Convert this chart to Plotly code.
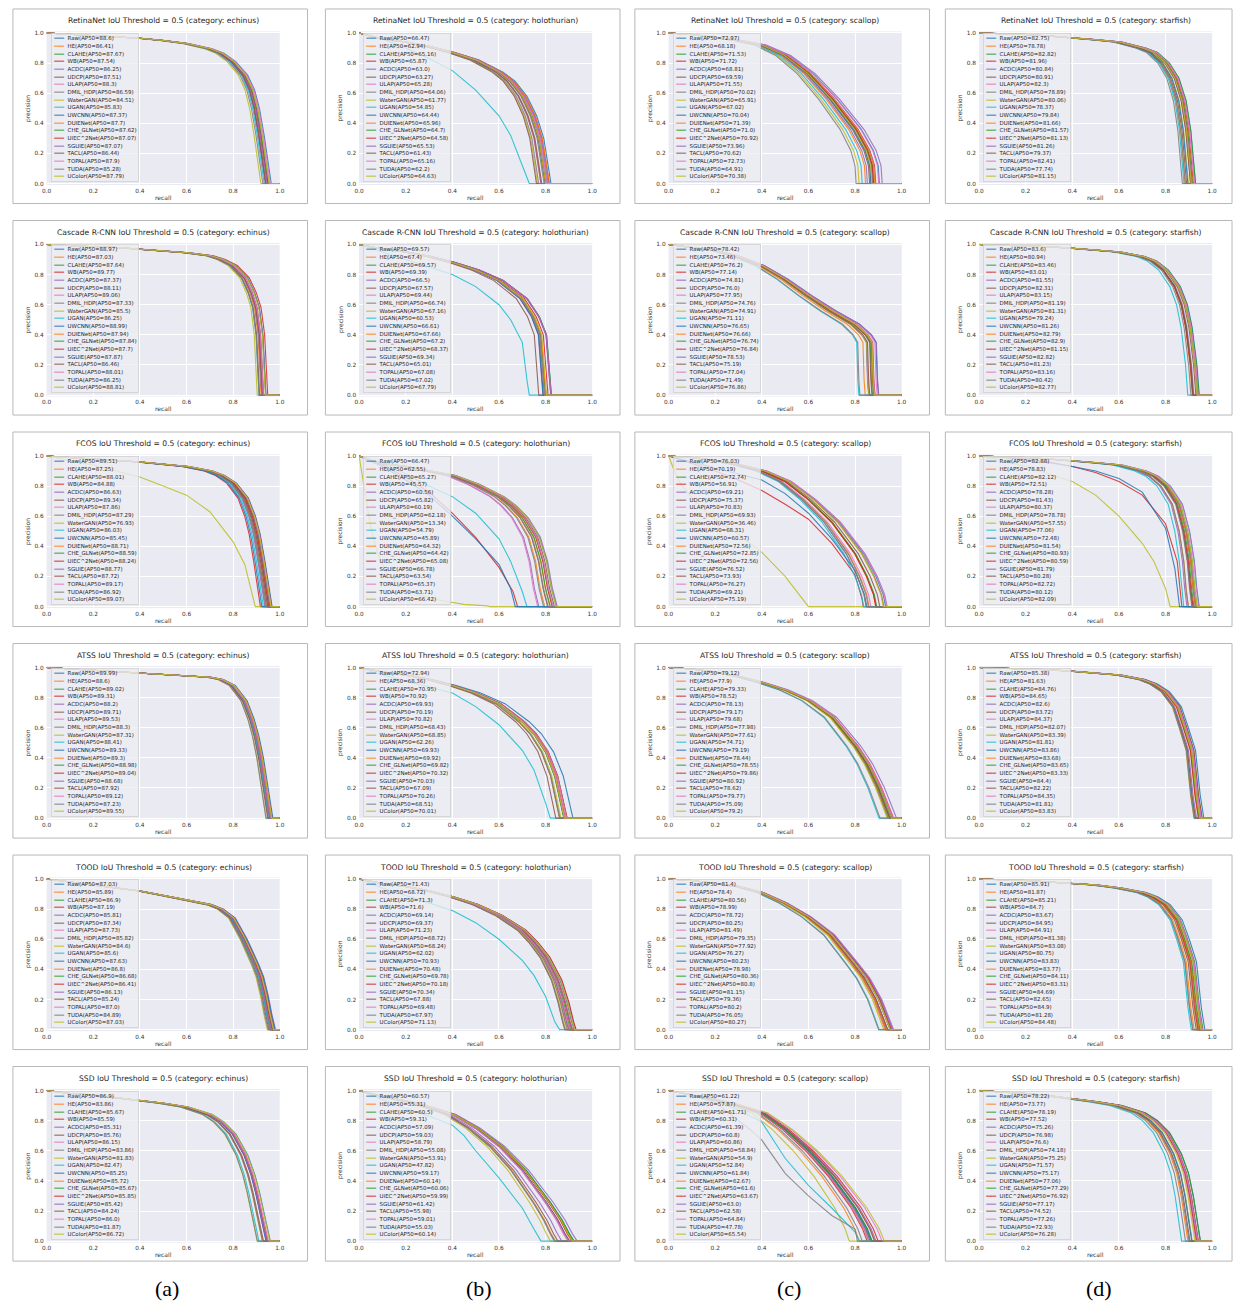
import numpy as np
import plotly.graph_objects as go

# ---------------------------------------------------------------- labels
methods = ["Raw", "HE", "CLAHE", "WB", "ACDC", "UDCP", "ULAP", "DMIL_HDP", "WaterGAN",
           "UGAN", "UWCNN", "DUIENet", "CHE_GLNet", "UIEC^2Net", "SGUIE", "TACL",
           "TOPAL", "TUDA", "UColor"]
detectors = ["RetinaNet", "Cascade R-CNN", "FCOS", "ATSS", "TOOD", "SSD"]
categories = ["echinus", "holothurian", "scallop", "starfish"]
column_tags = ["(a)", "(b)", "(c)", "(d)"]
tick_values = [0.0, 0.2, 0.4, 0.6, 0.8, 1.0]
tick_labels = ["0.0", "0.2", "0.4", "0.6", "0.8", "1.0"]

# ---------------------------------------------------------------- AP50 per method
ap_retinanet_echinus = [88.6, 86.41, 87.67, 87.54, 86.25, 87.51, 88.3, 86.59, 84.51, 85.83, 87.37, 87.7, 87.62, 87.07, 87.07, 86.44, 87.9, 85.28, 87.79]
ap_retinanet_holothurian = [66.47, 62.94, 65.16, 65.87, 63.0, 63.27, 65.28, 64.06, 61.77, 54.85, 64.44, 65.96, 64.7, 64.58, 65.53, 61.43, 65.16, 62.2, 64.63]
ap_retinanet_scallop = [72.97, 68.18, 71.53, 71.72, 68.81, 69.59, 71.55, 70.02, 65.91, 67.02, 70.04, 71.39, 71.0, 70.92, 73.96, 70.62, 72.73, 64.91, 70.38]
ap_retinanet_starfish = [82.75, 78.78, 82.82, 81.96, 80.84, 80.91, 82.3, 78.89, 80.06, 78.37, 79.84, 81.66, 81.57, 81.13, 81.26, 79.37, 82.41, 77.74, 81.15]

ap_cascade_echinus = [88.97, 87.03, 87.64, 89.77, 87.37, 88.11, 89.06, 87.33, 85.5, 86.25, 88.99, 87.94, 87.84, 87.7, 87.87, 86.46, 88.01, 86.25, 88.81]
ap_cascade_holothurian = [69.57, 67.4, 69.57, 69.39, 66.5, 67.57, 69.44, 66.74, 67.16, 60.53, 66.61, 67.66, 67.2, 68.37, 69.34, 65.01, 67.08, 67.02, 67.79]
ap_cascade_scallop = [78.42, 73.46, 76.2, 77.14, 74.81, 76.0, 77.95, 74.76, 74.91, 71.11, 76.65, 76.66, 76.74, 76.84, 78.53, 75.19, 77.04, 71.49, 76.86]
ap_cascade_starfish = [83.6, 80.94, 83.46, 83.01, 81.55, 82.31, 83.15, 81.19, 81.31, 79.24, 81.26, 82.79, 82.9, 81.15, 82.82, 81.23, 83.16, 80.42, 82.77]

ap_fcos_echinus = [89.51, 87.25, 88.01, 84.88, 86.63, 89.34, 87.86, 87.29, 76.93, 86.03, 85.45, 88.71, 88.59, 88.24, 88.77, 87.72, 89.17, 86.92, 89.07]
ap_fcos_holothurian = [66.47, 62.55, 65.27, 45.57, 60.56, 65.82, 60.19, 62.18, 13.34, 54.79, 45.89, 64.32, 64.42, 65.08, 66.78, 63.54, 65.37, 63.71, 66.42]
ap_fcos_scallop = [76.03, 70.19, 72.74, 56.91, 69.21, 75.37, 70.83, 69.93, 36.46, 68.31, 60.57, 72.56, 72.85, 72.56, 76.52, 73.93, 76.27, 69.21, 75.19]
ap_fcos_starfish = [82.88, 78.83, 82.12, 72.51, 78.28, 81.43, 80.37, 78.78, 57.55, 77.06, 72.48, 81.54, 80.93, 80.59, 81.79, 80.28, 82.72, 80.12, 82.09]

ap_atss_echinus = [89.99, 88.6, 89.02, 89.31, 88.2, 89.71, 89.53, 88.3, 87.31, 88.41, 89.33, 89.3, 88.98, 89.04, 88.68, 87.92, 89.12, 87.23, 89.55]
ap_atss_holothurian = [72.94, 68.36, 70.95, 70.92, 69.93, 70.19, 70.82, 68.43, 68.85, 62.26, 69.93, 69.92, 69.82, 70.32, 70.03, 67.09, 70.26, 68.51, 70.01]
ap_atss_scallop = [79.12, 77.9, 79.33, 78.52, 78.13, 79.17, 79.68, 77.98, 77.61, 74.71, 79.19, 78.44, 78.55, 79.86, 80.92, 78.62, 79.77, 75.09, 79.2]
ap_atss_starfish = [85.38, 81.63, 84.76, 84.65, 82.6, 83.72, 84.37, 82.07, 83.39, 81.81, 83.86, 83.68, 83.65, 83.33, 84.4, 82.22, 84.35, 81.81, 83.83]

ap_tood_echinus = [87.03, 85.89, 86.9, 87.19, 85.81, 87.34, 87.73, 85.82, 84.6, 85.6, 87.63, 86.8, 86.68, 86.41, 86.13, 85.24, 87.0, 84.89, 87.03]
ap_tood_holothurian = [71.43, 68.72, 71.3, 71.6, 69.14, 69.37, 71.23, 68.72, 68.24, 62.02, 70.93, 70.48, 69.78, 70.18, 70.34, 67.88, 69.48, 67.97, 71.13]
ap_tood_scallop = [81.4, 78.4, 80.56, 78.99, 78.72, 80.25, 81.49, 79.35, 77.92, 76.27, 80.23, 78.98, 80.36, 80.8, 81.15, 79.36, 80.2, 76.05, 80.27]
ap_tood_starfish = [85.91, 81.87, 85.21, 84.7, 83.67, 84.95, 84.91, 81.38, 83.08, 80.75, 83.83, 83.77, 84.11, 83.31, 84.69, 82.65, 84.9, 81.28, 84.48]

ap_ssd_echinus = [86.9, 83.86, 85.67, 85.59, 85.31, 85.76, 86.15, 83.86, 81.83, 82.47, 85.25, 85.72, 85.67, 85.85, 85.42, 84.24, 86.0, 81.87, 86.72]
ap_ssd_holothurian = [60.57, 55.31, 60.5, 59.31, 57.09, 59.03, 58.79, 55.08, 53.91, 47.82, 59.17, 60.14, 60.06, 59.99, 61.42, 55.98, 59.01, 55.03, 60.14]
ap_ssd_scallop = [61.22, 57.87, 61.71, 60.31, 61.39, 60.8, 60.86, 58.84, 54.9, 52.84, 61.84, 62.67, 61.6, 63.67, 63.0, 62.58, 64.84, 47.78, 65.54]
ap_ssd_starfish = [78.22, 73.77, 78.19, 77.52, 75.26, 76.98, 76.6, 74.18, 75.25, 71.57, 75.17, 77.06, 77.29, 76.92, 77.17, 74.52, 77.26, 72.93, 76.28]

# ---------------------------------------------------------------- typical PR curve of each panel
# (recall knots, precision knots) of the curve with the panel's median AP50
pr_retinanet_echinus = ([0, 0.1, 0.2, 0.3, 0.4, 0.5, 0.6, 0.7, 0.75, 0.8, 0.85, 0.88, 0.9, 0.92, 0.94, 0.95],
                        [1.0, 0.99, 0.985, 0.975, 0.965, 0.95, 0.93, 0.895, 0.865, 0.81, 0.72, 0.62, 0.5, 0.32, 0.1, 0])
pr_retinanet_holothurian = ([0, 0.05, 0.1, 0.2, 0.3, 0.4, 0.5, 0.6, 0.65, 0.7, 0.74, 0.77, 0.79, 0.8],
                            [1, 0.98, 0.96, 0.94, 0.91, 0.87, 0.82, 0.74, 0.68, 0.58, 0.45, 0.3, 0.1, 0])
pr_retinanet_scallop = ([0, 0.1, 0.2, 0.3, 0.4, 0.5, 0.6, 0.7, 0.8, 0.85, 0.87, 0.875],
                        [1, 0.99, 0.97, 0.95, 0.92, 0.85, 0.73, 0.56, 0.36, 0.22, 0.12, 0])
pr_retinanet_starfish = ([0, 0.1, 0.2, 0.3, 0.4, 0.5, 0.6, 0.7, 0.75, 0.8, 0.84, 0.87, 0.89, 0.9, 0.91],
                         [1, 0.995, 0.99, 0.98, 0.97, 0.955, 0.94, 0.9, 0.87, 0.8, 0.7, 0.55, 0.35, 0.15, 0])

pr_cascade_echinus = ([0, 0.1, 0.2, 0.3, 0.4, 0.5, 0.6, 0.7, 0.75, 0.8, 0.85, 0.88, 0.9, 0.915, 0.922, 0.928],
                      [1, 0.99, 0.985, 0.98, 0.97, 0.96, 0.945, 0.925, 0.9, 0.86, 0.78, 0.68, 0.58, 0.4, 0.15, 0])
pr_cascade_holothurian = ([0, 0.1, 0.2, 0.3, 0.4, 0.5, 0.6, 0.7, 0.75, 0.78, 0.79, 0.8],
                          [1, 0.97, 0.95, 0.92, 0.88, 0.83, 0.76, 0.64, 0.52, 0.4, 0.2, 0])
pr_cascade_scallop = ([0, 0.1, 0.2, 0.3, 0.4, 0.5, 0.6, 0.7, 0.8, 0.85, 0.87, 0.875, 0.88],
                      [1, 0.98, 0.96, 0.92, 0.86, 0.77, 0.66, 0.56, 0.47, 0.4, 0.35, 0.1, 0])
pr_cascade_starfish = ([0, 0.1, 0.2, 0.3, 0.4, 0.5, 0.6, 0.7, 0.75, 0.8, 0.85, 0.88, 0.9, 0.92, 0.93],
                       [1, 0.995, 0.99, 0.985, 0.975, 0.965, 0.95, 0.92, 0.89, 0.83, 0.72, 0.6, 0.45, 0.2, 0])

pr_fcos_echinus = ([0, 0.1, 0.2, 0.3, 0.4, 0.5, 0.6, 0.7, 0.75, 0.8, 0.85, 0.88, 0.9, 0.92, 0.94, 0.95],
                   [1, 0.99, 0.98, 0.97, 0.96, 0.945, 0.93, 0.9, 0.87, 0.82, 0.72, 0.6, 0.48, 0.3, 0.08, 0])
pr_fcos_holothurian = ([0, 0.05, 0.1, 0.2, 0.3, 0.4, 0.5, 0.6, 0.65, 0.7, 0.75, 0.78, 0.8, 0.82],
                       [1, 0.97, 0.95, 0.93, 0.9, 0.87, 0.81, 0.73, 0.67, 0.59, 0.46, 0.3, 0.12, 0])
pr_fcos_scallop = ([0, 0.1, 0.2, 0.3, 0.4, 0.5, 0.6, 0.7, 0.8, 0.85, 0.88, 0.89],
                   [1, 0.99, 0.97, 0.94, 0.9, 0.83, 0.71, 0.56, 0.35, 0.2, 0.08, 0])
pr_fcos_starfish = ([0, 0.1, 0.2, 0.3, 0.4, 0.5, 0.6, 0.7, 0.75, 0.8, 0.85, 0.88, 0.9, 0.91, 0.92],
                    [1, 0.995, 0.99, 0.98, 0.97, 0.955, 0.94, 0.9, 0.865, 0.8, 0.68, 0.5, 0.3, 0.12, 0])

pr_atss_echinus = ([0, 0.1, 0.2, 0.3, 0.4, 0.5, 0.6, 0.7, 0.75, 0.8, 0.85, 0.88, 0.9, 0.92, 0.94, 0.955, 0.96],
                   [1, 0.99, 0.985, 0.975, 0.965, 0.955, 0.945, 0.935, 0.92, 0.88, 0.78, 0.66, 0.55, 0.4, 0.2, 0.03, 0])
pr_atss_holothurian = ([0, 0.1, 0.2, 0.3, 0.4, 0.5, 0.6, 0.7, 0.75, 0.8, 0.84, 0.87, 0.88],
                       [1, 0.97, 0.95, 0.92, 0.88, 0.83, 0.76, 0.64, 0.56, 0.44, 0.28, 0.08, 0])
pr_atss_scallop = ([0, 0.1, 0.2, 0.3, 0.4, 0.5, 0.6, 0.7, 0.8, 0.85, 0.9, 0.93, 0.945, 0.95],
                   [1, 0.99, 0.97, 0.94, 0.9, 0.85, 0.78, 0.67, 0.48, 0.36, 0.2, 0.08, 0.02, 0])
pr_atss_starfish = ([0, 0.1, 0.2, 0.3, 0.4, 0.5, 0.6, 0.7, 0.75, 0.8, 0.85, 0.88, 0.91, 0.93, 0.945],
                    [1, 0.995, 0.99, 0.985, 0.975, 0.965, 0.95, 0.92, 0.89, 0.84, 0.74, 0.6, 0.45, 0.15, 0])

pr_tood_echinus = ([0, 0.1, 0.2, 0.3, 0.4, 0.5, 0.6, 0.7, 0.75, 0.8, 0.85, 0.88, 0.9, 0.92, 0.94, 0.955, 0.965, 0.97],
                   [1, 0.98, 0.96, 0.94, 0.92, 0.89, 0.86, 0.83, 0.8, 0.74, 0.6, 0.5, 0.43, 0.35, 0.22, 0.1, 0.02, 0])
pr_tood_holothurian = ([0, 0.1, 0.2, 0.3, 0.4, 0.5, 0.6, 0.7, 0.75, 0.8, 0.85, 0.88, 0.9, 0.91],
                       [1, 0.97, 0.95, 0.92, 0.88, 0.83, 0.76, 0.66, 0.58, 0.48, 0.33, 0.18, 0.05, 0])
pr_tood_scallop = ([0, 0.1, 0.2, 0.3, 0.4, 0.5, 0.6, 0.7, 0.8, 0.85, 0.9, 0.93, 0.945, 0.95],
                   [1, 0.99, 0.97, 0.95, 0.91, 0.84, 0.75, 0.63, 0.44, 0.34, 0.2, 0.08, 0.02, 0])
pr_tood_starfish = ([0, 0.1, 0.2, 0.3, 0.4, 0.5, 0.6, 0.7, 0.75, 0.8, 0.85, 0.88, 0.91, 0.93, 0.945],
                    [1, 0.995, 0.99, 0.98, 0.97, 0.96, 0.94, 0.91, 0.88, 0.83, 0.73, 0.6, 0.45, 0.15, 0])

pr_ssd_echinus = ([0, 0.1, 0.2, 0.3, 0.4, 0.5, 0.6, 0.7, 0.75, 0.8, 0.85, 0.88, 0.9, 0.92, 0.935, 0.945],
                  [1, 0.98, 0.97, 0.95, 0.935, 0.915, 0.89, 0.84, 0.79, 0.71, 0.57, 0.44, 0.32, 0.18, 0.06, 0])
pr_ssd_holothurian = ([0, 0.1, 0.2, 0.3, 0.4, 0.5, 0.6, 0.7, 0.8, 0.85, 0.88, 0.9],
                      [1, 0.96, 0.93, 0.89, 0.84, 0.75, 0.63, 0.47, 0.26, 0.14, 0.05, 0])
pr_ssd_scallop = ([0, 0.1, 0.2, 0.3, 0.4, 0.5, 0.6, 0.7, 0.8, 0.85, 0.87],
                  [1, 0.97, 0.94, 0.9, 0.85, 0.74, 0.6, 0.43, 0.22, 0.08, 0])
pr_ssd_starfish = ([0, 0.1, 0.2, 0.3, 0.4, 0.5, 0.6, 0.7, 0.75, 0.8, 0.85, 0.88, 0.9, 0.92, 0.93],
                   [1, 0.99, 0.98, 0.965, 0.945, 0.925, 0.9, 0.85, 0.8, 0.72, 0.58, 0.45, 0.3, 0.1, 0])

# ---------------------------------------------------------------- curves that leave the bundle
pr_outliers = {
    ("RetinaNet", "holothurian", "UGAN"): ([0, 0.1, 0.2, 0.3, 0.4, 0.5, 0.6, 0.65, 0.7, 0.73],
                                           [1, 0.96, 0.9, 0.83, 0.75, 0.62, 0.45, 0.32, 0.12, 0]),
    ("Cascade R-CNN", "holothurian", "UGAN"): ([0, 0.1, 0.2, 0.3, 0.4, 0.5, 0.6, 0.65, 0.7, 0.72, 0.73],
                                               [1, 0.95, 0.9, 0.85, 0.8, 0.72, 0.6, 0.5, 0.35, 0.1, 0]),
    ("FCOS", "echinus", "WaterGAN"): ([0, 0.1, 0.2, 0.3, 0.4, 0.5, 0.6, 0.7, 0.8, 0.85, 0.88, 0.895],
                                      [1, 0.97, 0.94, 0.9, 0.86, 0.8, 0.74, 0.63, 0.43, 0.28, 0.1, 0]),
    ("FCOS", "holothurian", "WB"): ([0, 0.1, 0.2, 0.3, 0.4, 0.5, 0.6, 0.66, 0.68],
                                    [1, 0.94, 0.86, 0.76, 0.62, 0.46, 0.26, 0.1, 0]),
    ("FCOS", "holothurian", "WaterGAN"): ([0, 0.01, 0.03, 0.05, 0.08, 0.12, 0.18, 0.25, 0.35, 0.45, 0.55, 0.56],
                                          [1, 0.9, 0.7, 0.52, 0.35, 0.22, 0.13, 0.08, 0.04, 0.015, 0.005, 0]),
    ("FCOS", "holothurian", "UGAN"): ([0, 0.1, 0.2, 0.3, 0.4, 0.5, 0.6, 0.65, 0.7, 0.72],
                                      [1, 0.95, 0.88, 0.8, 0.73, 0.62, 0.45, 0.3, 0.1, 0]),
    ("FCOS", "holothurian", "UWCNN"): ([0, 0.1, 0.2, 0.3, 0.4, 0.5, 0.6, 0.65, 0.67],
                                       [1, 0.93, 0.84, 0.74, 0.6, 0.45, 0.28, 0.12, 0]),
    ("FCOS", "scallop", "WB"): ([0, 0.1, 0.2, 0.3, 0.4, 0.5, 0.6, 0.7, 0.8, 0.83, 0.835],
                                [1, 0.95, 0.9, 0.84, 0.77, 0.68, 0.58, 0.42, 0.21, 0.05, 0]),
    ("FCOS", "scallop", "WaterGAN"): ([0, 0.02, 0.05, 0.1, 0.15, 0.2, 0.3, 0.4, 0.5, 0.55, 0.6],
                                      [1, 0.92, 0.82, 0.72, 0.64, 0.58, 0.48, 0.36, 0.2, 0.1, 0]),
    ("FCOS", "scallop", "UWCNN"): ([0, 0.1, 0.2, 0.3, 0.4, 0.5, 0.6, 0.7, 0.8, 0.84, 0.85],
                                   [1, 0.96, 0.92, 0.88, 0.84, 0.75, 0.62, 0.45, 0.24, 0.08, 0]),
    ("FCOS", "starfish", "WB"): ([0, 0.1, 0.2, 0.3, 0.4, 0.5, 0.6, 0.7, 0.8, 0.85, 0.87],
                                 [1, 0.99, 0.98, 0.96, 0.93, 0.89, 0.83, 0.74, 0.55, 0.3, 0]),
    ("FCOS", "starfish", "WaterGAN"): ([0, 0.1, 0.2, 0.3, 0.4, 0.5, 0.6, 0.7, 0.75, 0.8, 0.82],
                                       [1, 0.97, 0.93, 0.88, 0.83, 0.74, 0.6, 0.42, 0.3, 0.12, 0]),
    ("FCOS", "starfish", "UWCNN"): ([0, 0.1, 0.2, 0.3, 0.4, 0.5, 0.6, 0.7, 0.8, 0.84, 0.86],
                                    [1, 0.99, 0.975, 0.955, 0.93, 0.9, 0.85, 0.76, 0.52, 0.25, 0]),
    ("ATSS", "holothurian", "UGAN"): ([0, 0.1, 0.2, 0.3, 0.4, 0.5, 0.6, 0.7, 0.75, 0.8, 0.82],
                                      [1, 0.95, 0.91, 0.87, 0.83, 0.74, 0.62, 0.45, 0.32, 0.1, 0]),
    ("TOOD", "holothurian", "UGAN"): ([0, 0.1, 0.2, 0.3, 0.4, 0.5, 0.6, 0.7, 0.75, 0.8, 0.84, 0.86],
                                      [1, 0.94, 0.89, 0.84, 0.79, 0.71, 0.6, 0.46, 0.36, 0.22, 0.05, 0]),
    ("SSD", "holothurian", "UGAN"): ([0, 0.1, 0.2, 0.3, 0.4, 0.45, 0.5, 0.6, 0.7, 0.75, 0.78],
                                     [1, 0.94, 0.88, 0.83, 0.77, 0.7, 0.6, 0.42, 0.22, 0.08, 0]),
    ("SSD", "scallop", "UGAN"): ([0, 0.1, 0.2, 0.3, 0.4, 0.5, 0.6, 0.7, 0.8, 0.82],
                                 [1, 0.97, 0.93, 0.87, 0.79, 0.55, 0.37, 0.22, 0.06, 0]),
    ("SSD", "scallop", "TUDA"): ([0, 0.1, 0.2, 0.3, 0.35, 0.4, 0.5, 0.6, 0.7, 0.8, 0.81],
                                [1, 0.97, 0.92, 0.8, 0.74, 0.67, 0.45, 0.3, 0.17, 0.08, 0]),
}

ap_table = {
    "RetinaNet": [ap_retinanet_echinus, ap_retinanet_holothurian, ap_retinanet_scallop, ap_retinanet_starfish],
    "Cascade R-CNN": [ap_cascade_echinus, ap_cascade_holothurian, ap_cascade_scallop, ap_cascade_starfish],
    "FCOS": [ap_fcos_echinus, ap_fcos_holothurian, ap_fcos_scallop, ap_fcos_starfish],
    "ATSS": [ap_atss_echinus, ap_atss_holothurian, ap_atss_scallop, ap_atss_starfish],
    "TOOD": [ap_tood_echinus, ap_tood_holothurian, ap_tood_scallop, ap_tood_starfish],
    "SSD": [ap_ssd_echinus, ap_ssd_holothurian, ap_ssd_scallop, ap_ssd_starfish],
}
pr_table = {
    "RetinaNet": [pr_retinanet_echinus, pr_retinanet_holothurian, pr_retinanet_scallop, pr_retinanet_starfish],
    "Cascade R-CNN": [pr_cascade_echinus, pr_cascade_holothurian, pr_cascade_scallop, pr_cascade_starfish],
    "FCOS": [pr_fcos_echinus, pr_fcos_holothurian, pr_fcos_scallop, pr_fcos_starfish],
    "ATSS": [pr_atss_echinus, pr_atss_holothurian, pr_atss_scallop, pr_atss_starfish],
    "TOOD": [pr_tood_echinus, pr_tood_holothurian, pr_tood_scallop, pr_tood_starfish],
    "SSD": [pr_ssd_echinus, pr_ssd_holothurian, pr_ssd_scallop, pr_ssd_starfish],
}

# ---------------------------------------------------------------- style
tab10 = ["#1f77b4", "#ff7f0e", "#2ca02c", "#d62728", "#9467bd",
         "#8c564b", "#e377c2", "#7f7f7f", "#bcbd22", "#17becf"]
FONT = "DejaVu Sans"
TEXT = "#333333"
W, H = 1239, 1305
COL_X0 = [42, 357, 669, 982]       # left edge of each column's axes (px)
PLOT_W = 235
ROW_STEP = 212
TOP0 = 30.5                        # top of the first row's axes (px)
PLOT_H = 154
Y_RANGE = [-0.01, 1.01]

fig = go.Figure()
shapes, annotations = [], []


def px_x(v):
    return v / W


def px_y(v):
    return 1 - v / H


idx = 0
for r, det in enumerate(detectors):
    for c, cat in enumerate(categories):
        idx += 1
        xa = "x" if idx == 1 else f"x{idx}"
        ya = "y" if idx == 1 else f"y{idx}"
        x0 = COL_X0[c]
        top = TOP0 + r * ROW_STEP

        fig.layout[f"xaxis{idx}"] = dict(
            domain=[px_x(x0), px_x(x0 + PLOT_W)], anchor=ya, range=[0, 1.0],
            tickvals=tick_values, ticktext=tick_labels, showgrid=True,
            gridcolor="white", gridwidth=1, zeroline=False, showline=False,
            ticks="", tickfont=dict(family=FONT, size=5.8, color=TEXT),
            ticklabelstandoff=1)
        fig.layout[f"yaxis{idx}"] = dict(
            domain=[px_y(top + PLOT_H), px_y(top)], anchor=xa, range=Y_RANGE,
            tickvals=tick_values, ticktext=tick_labels, showgrid=True,
            gridcolor="white", gridwidth=1, zeroline=False, showline=False,
            ticks="", tickfont=dict(family=FONT, size=5.8, color=TEXT),
            ticklabelstandoff=2)

        aps = ap_table[det][c]
        base_r, base_p = pr_table[det][c]
        regular = [a for m, a in zip(methods, aps) if (det, cat, m) not in pr_outliers]
        ref_ap = float(np.median(regular))

        for k, (m, a) in enumerate(zip(methods, aps)):
            key = (det, cat, m)
            if key in pr_outliers:
                rr, pp = pr_outliers[key]
            else:
                # stretch the panel's typical curve in recall by this method's AP50
                scale = a / ref_ap
                rr = [v * scale for v in base_r]
                pp = base_p
            rr = list(rr) + [1.0]
            pp = list(pp) + [0.0]
            fig.add_trace(go.Scatter(
                x=rr, y=pp, xaxis=xa, yaxis=ya, mode="lines",
                line=dict(color=tab10[k % 10], width=1.1), opacity=0.85,
                showlegend=False, hoverinfo="skip"))

        # legend block
        rows = []
        for k, (m, a) in enumerate(zip(methods, aps)):
            rows.append(
                f'<span style="color:{tab10[k % 10]};font-size:5.45px">━━━</span>'
                f'<span style="font-size:5.45px">\u00a0\u00a0{m}(AP50={a})</span>')
        annotations.append(dict(
            text="<br>".join(rows), xref=f"{xa} domain", yref=f"{ya} domain",
            x=0.018, y=0.99, xanchor="left", yanchor="top", align="left",
            showarrow=False, font=dict(family=FONT, size=5.9, color="#262626"),
            bgcolor="rgba(236,236,243,0.8)", bordercolor="rgba(205,205,205,0.9)",
            borderwidth=0.8, borderpad=1.5))

        # title and axis labels
        annotations.append(dict(
            text=f"{det} IoU Threshold = 0.5 (category: {cat})",
            xref=f"{xa} domain", yref=f"{ya} domain", x=0.5, y=1 + 10.5 / PLOT_H,
            xanchor="center", yanchor="middle", showarrow=False,
            font=dict(family=FONT, size=7.6, color="#262626")))
        annotations.append(dict(
            text="recall", xref=f"{xa} domain", yref=f"{ya} domain",
            x=0.5, y=-12.0 / PLOT_H, xanchor="center", yanchor="middle",
            showarrow=False, font=dict(family=FONT, size=6, color=TEXT)))
        annotations.append(dict(
            text="precision", xref=f"{xa} domain", yref=f"{ya} domain",
            x=-19.0 / PLOT_W, y=0.5, xanchor="center", yanchor="middle",
            textangle=-90, showarrow=False,
            font=dict(family=FONT, size=6, color=TEXT)))

        # frame around the panel
        shapes.append(dict(
            type="rect", xref="paper", yref="paper",
            x0=px_x(x0 - 34), x1=px_x(min(x0 + 263, W - 2)),
            y0=px_y(203 + r * ROW_STEP), y1=px_y(8 + r * ROW_STEP),
            line=dict(color="#b8b8b8", width=1), fillcolor="rgba(0,0,0,0)",
            layer="below"))

# column tags under the grid
for c, tag in enumerate(column_tags):
    annotations.append(dict(
        text=tag, xref="paper", yref="paper",
        x=px_x(COL_X0[c] + 121), y=px_y(1290), xanchor="center", yanchor="middle",
        showarrow=False, font=dict(family="Liberation Serif", size=22, color="black")))

fig.update_layout(
    width=W, height=H, margin=dict(l=0, r=0, t=0, b=0),
    paper_bgcolor="white", plot_bgcolor="#EAEAF2",
    showlegend=False, shapes=shapes, annotations=annotations,
    font=dict(family=FONT))

fig.write_html("out.html")
